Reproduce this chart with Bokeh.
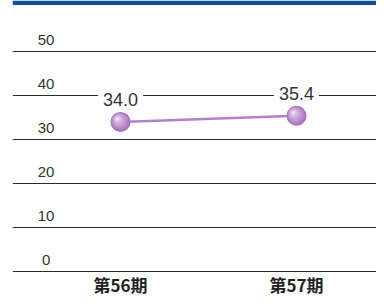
from bokeh.plotting import figure
from bokeh.models import Range1d, FixedTicker, ColumnDataSource, BoxAnnotation
from bokeh.core.properties import value
from bokeh.transform import dodge
from bokeh.embed import file_html
from bokeh.resources import INLINE

# ---- data ----
categories = ["第56期", "第57期"]
values = [34.0, 35.4]
value_labels = ["34.0", "35.4"]
y_ticks = [0, 10, 20, 30, 40, 50]
y_tick_labels = ["0", "10", "20", "30", "40", "50"]

xs = list(range(len(categories)))

# ---- layout constants (pixels -> data) ----
PX_X = 176.0   # px per x unit
PX_Y = 4.4     # px per y unit
X0, X1 = -0.6136, 1.4545
Y0, Y1 = -29 / PX_Y, 271 / PX_Y
TICK_LABEL_X = -0.423

src = ColumnDataSource(dict(x=xs, y=values, label=value_labels))
cat_src = ColumnDataSource(dict(x=xs, y=[0] * len(xs), label=categories))
tick_src = ColumnDataSource(dict(x=[TICK_LABEL_X] * len(y_ticks), y=y_ticks, label=y_tick_labels))

p = figure(width=376, height=300, x_range=Range1d(X0, X1), y_range=Range1d(Y0, Y1),
           min_border_left=12, min_border_right=0, min_border_top=0, min_border_bottom=0,
           x_axis_location=None, y_axis_location=None, outline_line_color=None,
           toolbar_location=None, output_backend="svg")
p.background_fill_color = "white"
p.border_fill_color = "white"

# grid
p.xgrid.visible = False
p.ygrid.ticker = FixedTicker(ticks=y_ticks)
p.ygrid.grid_line_color = "#2b2b2b"
p.ygrid.grid_line_width = 1

# top blue banner edge
p.add_layout(BoxAnnotation(left=X0, right=X1, top=Y1, bottom=Y1 - 4.5 / PX_Y,
                           fill_color="#0c4f9f", fill_alpha=1, line_color=None))

# tick labels
p.text(x="x", y="y", text="label", source=tick_src, text_align="center",
       text_baseline="middle", y_offset=-12, text_font=value("Liberation Sans"),
       text_font_size="15px", text_color="#333333")

# category labels
p.text(x="x", y="y", text="label", source=cat_src, text_align="center",
       text_baseline="middle", y_offset=13, text_font=value("Noto Sans CJK JP"),
       text_font_style="bold", text_font_size="17px", text_color="#222222")

# line
p.line(x="x", y="y", source=src, line_color="#b57fc8", line_width=2.5)

# sphere markers (layered)
layers = [
    (10.0, 0.0, "#a570bb"),
    (8.8, 0.6, "#b382c7"),
    (7.2, 1.3, "#c196d2"),
    (5.4, 2.0, "#cdaadb"),
    (3.5, 2.6, "#dbc0e5"),
    (1.8, 3.0, "#ecdcf2"),
]
for r, off, col in layers:
    p.scatter(x=dodge("x", -off / PX_X, range=p.x_range),
              y=dodge("y", off / PX_Y, range=p.y_range),
              source=src, size=2 * r, marker="circle",
              fill_color=col, line_color=None)

# value labels
p.text(x="x", y="y", text="label", source=src, text_align="center",
       text_baseline="middle", y_offset=-22, text_font=value("Liberation Sans"),
       text_font_size="18px", text_color="#333333",
       background_fill_color="white", padding=5)

open("out.html", "w").write(file_html(p, INLINE))
